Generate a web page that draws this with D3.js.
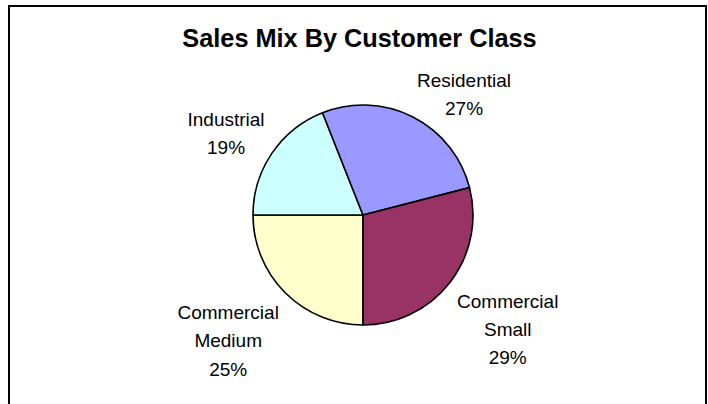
<!DOCTYPE html>
<html>
<head>
<meta charset="utf-8">
<script src="https://cdn.jsdelivr.net/npm/d3@7"></script>
<style>
  html, body { margin: 0; padding: 0; background: #fff; }
  svg { display: block; }
</style>
</head>
<body>
<svg id="chart" width="708" height="404"></svg>
<script>
// Customer classes, drawn clockwise starting from 6 o'clock
const categories = ["Commercial Medium", "Industrial", "Residential", "Commercial Small"];
const labelLines = [["Commercial", "Medium"], ["Industrial"], ["Residential"], ["Commercial", "Small"]];
const shares = [25, 19, 27, 29];
const colors = ["#FFFFCC", "#CCFFFF", "#9999FF", "#993366"];
const title = "Sales Mix By Customer Class";

const W = 708, H = 404;
const cx = 363, cy = 215, radius = 110;
const fontFamily = "'Liberation Sans', Arial, Helvetica, sans-serif";
const labelSize = 19, lineGap = 28.4, capH = 0.716 * labelSize;

const svg = d3.select("#chart");

// Chart area border (runs past the bottom edge of the view)
svg.append("rect")
  .attr("x", 9).attr("y", 6)
  .attr("width", 697).attr("height", 420)
  .attr("fill", "#fff")
  .attr("stroke", "#000")
  .attr("stroke-width", 2);

svg.append("text")
  .attr("x", 359.5).attr("y", 47)
  .attr("text-anchor", "middle")
  .attr("font-family", fontFamily)
  .attr("font-weight", "bold")
  .attr("font-size", 25.3)
  .attr("fill", "#000")
  .text(title);

const data = categories.map((c, i) => ({ name: c, value: shares[i], color: colors[i], lines: labelLines[i] }));

const pie = d3.pie()
  .value(d => d.value)
  .sort(null)
  .startAngle(Math.PI)
  .endAngle(Math.PI * 3);

const arc = d3.arc().innerRadius(0).outerRadius(radius);
const arcs = pie(data);

const g = svg.append("g").attr("transform", `translate(${cx},${cy})`);

g.selectAll("path.slice")
  .data(arcs)
  .join("path")
  .attr("class", "slice")
  .attr("d", arc)
  .attr("fill", d => d.data.color)
  .attr("stroke", "#000")
  .attr("stroke-width", 1.6)
  .attr("stroke-linejoin", "round");

// Labels: the text block's inner corner sits on a ring just outside the pie,
// along the slice's mid angle.
const labelRing = radius + 9;
const dropY = 6;
const labels = g.selectAll("g.label")
  .data(arcs)
  .join("g")
  .attr("class", "label");

labels.each(function (d) {
  const lines = d.data.lines.concat([d.data.value + "%"]);
  const grp = d3.select(this);
  const t = grp.append("text")
    .attr("text-anchor", "middle")
    .attr("font-family", fontFamily)
    .attr("font-size", labelSize)
    .attr("fill", "#000");
  lines.forEach((ln, i) => {
    t.append("tspan").attr("x", 0).attr("y", i * lineGap).text(ln);
  });
  const w = t.node().getBBox().width;
  const h = capH + (lines.length - 1) * lineGap;
  const a = (d.startAngle + d.endAngle) / 2;
  const ux = Math.sin(a), uy = -Math.cos(a);
  const px = ux * labelRing, py = uy * labelRing + dropY;
  const midX = ux >= 0 ? px + w / 2 : px - w / 2;
  const top = uy < 0 ? py - h : py;
  grp.attr("transform", `translate(${midX},${top + capH})`);
});
</script>
</body>
</html>
